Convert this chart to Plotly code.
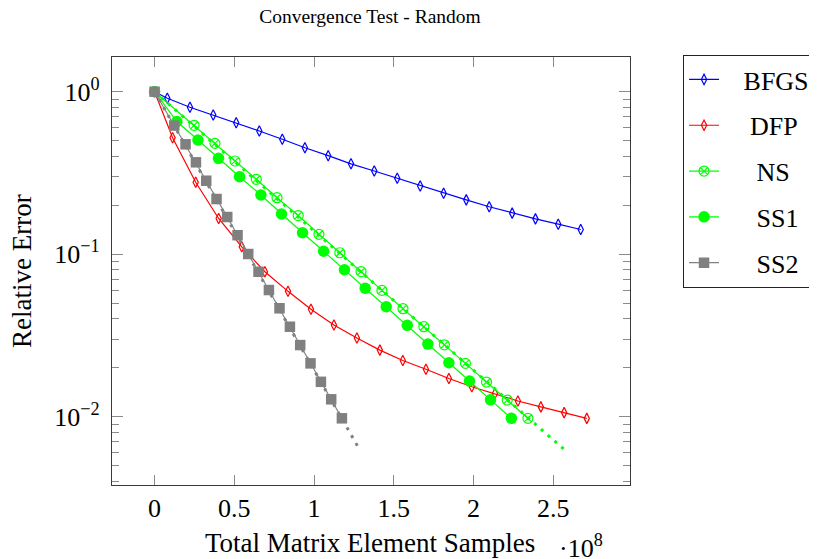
import plotly.graph_objects as go

# ---------------- data ----------------
title_text = "Convergence Test - Random"
x_title = "Total Matrix Element Samples"
y_title = "Relative Error"
x_multiplier = "·10<sup>8</sup>"

series_names = ["BFGS", "DFP", "NS", "SS1", "SS2"]

x_ticks = [0, 0.5, 1, 1.5, 2, 2.5]
x_ticklabels = ["0", "0.5", "1", "1.5", "2", "2.5"]
y_ticks = [1, 0.1, 0.01]
y_ticklabels = ["10<sup>0</sup>", "10<sup>−1</sup>", "10<sup>−2</sup>"]
y_minor_ticks = [m * 10 ** e for e in (-3, -2, -1) for m in range(2, 10) if m * 10 ** e > 0.0038]

# x values in units of 1e8 samples
bfgs_x = [0, 0.080, 0.222, 0.368, 0.512, 0.657, 0.801, 0.943, 1.089, 1.232, 1.378,
          1.522, 1.666, 1.813, 1.955, 2.099, 2.243, 2.389, 2.532, 2.673]
bfgs_y = [1, 0.911, 0.802, 0.719, 0.645, 0.573, 0.510, 0.452, 0.404, 0.360, 0.325,
          0.293, 0.263, 0.237, 0.216, 0.196, 0.179, 0.165, 0.153, 0.142]

dfp_x = [0, 0.113, 0.258, 0.402, 0.547, 0.692, 0.837, 0.981, 1.125, 1.269, 1.413,
         1.557, 1.702, 1.846, 1.990, 2.135, 2.279, 2.423, 2.569, 2.711]
dfp_y = [1, 0.521, 0.277, 0.166, 0.111, 0.078, 0.0591, 0.0458, 0.0367, 0.0305, 0.0257,
         0.0222, 0.0196, 0.0172, 0.0153, 0.0139, 0.0125, 0.0115, 0.0106, 0.00977]

ns_x = [0, 0.248, 0.379, 0.505, 0.638, 0.768, 0.901, 1.031, 1.162, 1.295, 1.426,
        1.558, 1.689, 1.818, 1.950, 2.082, 2.212, 2.342]
ns_y = [1, 0.621, 0.481, 0.3745, 0.289, 0.2227, 0.173, 0.1326, 0.1021, 0.0782, 0.0599,
        0.0462, 0.0358, 0.0277, 0.0213, 0.01635, 0.01267, 0.00978]

ss1_x = [0, 0.140, 0.272, 0.401, 0.533, 0.667, 0.796, 0.928, 1.060, 1.191, 1.321,
         1.453, 1.585, 1.714, 1.846, 1.975, 2.107, 2.238]
ss1_y = [1, 0.655, 0.5045, 0.389, 0.2998, 0.2313, 0.1768, 0.1356, 0.1043, 0.0803, 0.0617,
         0.0475, 0.0365, 0.0280, 0.0215, 0.0166, 0.0127, 0.00978]

ss2_x = [0, 0.1235, 0.1944, 0.2596, 0.3241, 0.3887, 0.4558, 0.5204, 0.5875, 0.6520,
         0.7172, 0.7837, 0.8489, 0.9135, 0.9781, 1.0433, 1.1078, 1.1749]
ss2_y = [1, 0.619, 0.4745, 0.3677, 0.2833, 0.2186, 0.1694, 0.1309, 0.1003, 0.0780,
         0.0602, 0.0465, 0.0358, 0.0276, 0.0213, 0.0164, 0.0128, 0.00978]

# dotted trend lines
ns_fit_x = [0, 2.569]
ns_fit_y = [1, 0.0063]
ss2_fit_x = [0, 1.285]
ss2_fit_y = [1, 0.0063]

# ---------------- figure ----------------
FONT = "Liberation Serif"
BLUE, RED, GREEN, GRAY = "#0000ff", "#ff0000", "#00ff00", "#808080"
NB = "\u00a0"
# leading non-breaking spaces roughly centre the legend labels like the reference
legend_pad = {"BFGS": 3, "DFP": 4, "NS": 5, "SS1": 5, "SS2": 5}


def lname(n):
    return NB * legend_pad[n] + n


fig = go.Figure()

fig.add_trace(go.Scatter(x=bfgs_x, y=bfgs_y, name=lname(series_names[0]), mode="lines+markers",
                         line=dict(color=BLUE, width=1.2),
                         marker=dict(symbol="diamond-tall-open", size=7.5, color=BLUE,
                                     line=dict(width=1.2, color=BLUE)),
                         legendgroup="a"))
fig.add_trace(go.Scatter(x=dfp_x, y=dfp_y, name=lname(series_names[1]), mode="lines+markers",
                         line=dict(color=RED, width=1.2),
                         marker=dict(symbol="diamond-tall-open", size=7.5, color=RED,
                                     line=dict(width=1.2, color=RED)),
                         legendgroup="b"))
fig.add_trace(go.Scatter(x=ns_x, y=ns_y, name=lname(series_names[2]), mode="lines+markers",
                         line=dict(color=GREEN, width=1.2),
                         marker=dict(symbol="circle-x-open", size=10, color=GREEN,
                                     line=dict(width=1.2, color=GREEN)),
                         legendgroup="c"))
fig.add_trace(go.Scatter(x=ns_fit_x, y=ns_fit_y, mode="lines", showlegend=False,
                         line=dict(color=GREEN, width=3, dash="3px,6px"),
                         hoverinfo="skip"))
fig.add_trace(go.Scatter(x=ss1_x, y=ss1_y, name=lname(series_names[3]), mode="lines+markers",
                         line=dict(color=GREEN, width=1.2),
                         marker=dict(symbol="circle", size=11.5, color=GREEN),
                         legendgroup="d"))
fig.add_trace(go.Scatter(x=ss2_x, y=ss2_y, name=lname(series_names[4]), mode="lines+markers",
                         line=dict(color=GRAY, width=1.2),
                         marker=dict(symbol="square", size=10.5, color=GRAY),
                         legendgroup="e"))
fig.add_trace(go.Scatter(x=ss2_fit_x, y=ss2_fit_y, mode="lines", showlegend=False,
                         line=dict(color=GRAY, width=3, dash="3px,6px"),
                         hoverinfo="skip"))

axis_common = dict(
    showgrid=False, zeroline=False, showline=True, linecolor="#3a3a3a", linewidth=1.2,
    mirror="allticks", ticks="inside", tickcolor="#8a8a8a", tickwidth=1.2,
    tickfont=dict(family=FONT, size=26, color="black"),
)

fig.update_xaxes(**axis_common, range=[-0.267, 2.982], tickmode="array",
                 tickvals=x_ticks, ticktext=x_ticklabels, ticklen=10,
                 ticklabelstandoff=0)
fig.update_yaxes(**axis_common, type="log", range=[-2.420, 0.2135], tickmode="array",
                 tickvals=y_ticks, ticktext=y_ticklabels, ticklen=11,
                 ticklabelstandoff=6,
                 minor=dict(tickmode="array", tickvals=y_minor_ticks, ticks="inside",
                            ticklen=7, tickcolor="#8a8a8a", tickwidth=1.2, showgrid=False))

W, H = 809, 551  # page body adds an 8px offset
fig.update_layout(
    width=W, height=H,
    margin=dict(l=104, r=W - 104 - 518, t=49, b=H - 49 - 428, autoexpand=False),
    plot_bgcolor="white", paper_bgcolor="white",
    font=dict(family=FONT, color="black"),
    title=dict(text=title_text, x=0.498, xref="paper", xanchor="center",
               y=1 - 8 / H, yanchor="middle", yref="container",
               font=dict(family=FONT, size=19.5, color="black")),
    legend=dict(x=1.102, y=1.005, xanchor="left", yanchor="top",
                bordercolor="#222222", borderwidth=1.2, bgcolor="white",
                font=dict(family=FONT, size=26, color="black"),
                tracegroupgap=9, itemwidth=30),
    showlegend=True,
    annotations=[
        dict(text=x_title, xref="paper", yref="paper", x=0.498, y=-0.1355,
             xanchor="center", yanchor="middle", showarrow=False,
             font=dict(family=FONT, size=27, color="black")),
        dict(text=x_multiplier, xref="paper", yref="paper", x=0.905, y=-0.143,
             xanchor="center", yanchor="middle", showarrow=False,
             font=dict(family=FONT, size=26, color="black")),
        dict(text=y_title, xref="paper", yref="paper", x=-0.1737, y=0.5,
             xanchor="center", yanchor="middle", showarrow=False, textangle=-90,
             font=dict(family=FONT, size=27, color="black")),
    ],
)

fig.write_html("out.html")
